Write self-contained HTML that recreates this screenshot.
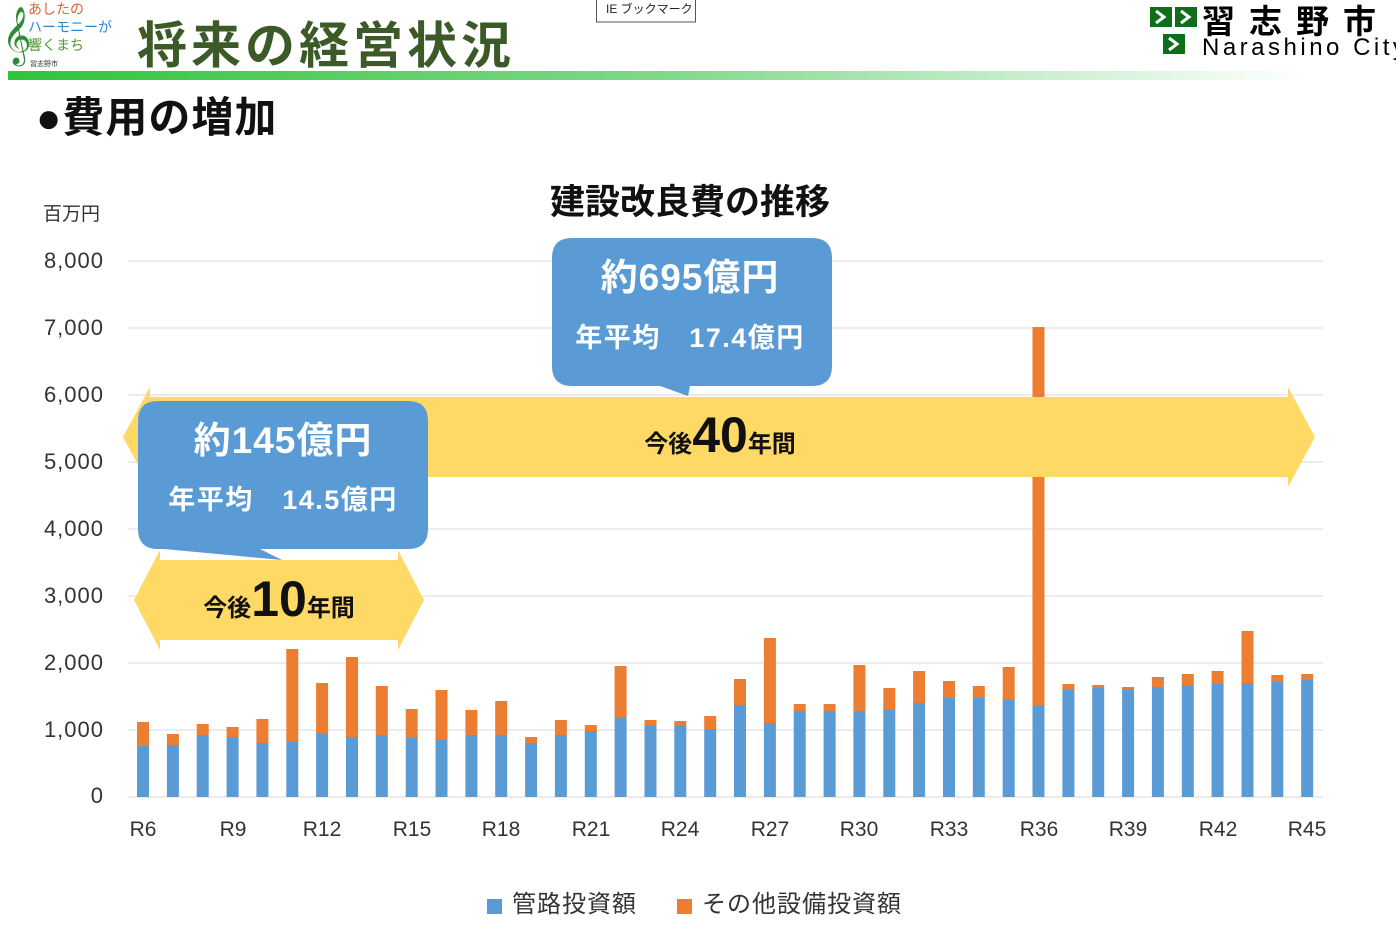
<!DOCTYPE html>
<html><head><meta charset="utf-8"><style>
body{margin:0;width:1396px;height:922px;background:#fff;overflow:hidden;font-family:"Liberation Sans","Noto Sans CJK JP",sans-serif}
svg text{font-family:"Liberation Sans","Noto Sans CJK JP",sans-serif}
</style></head><body>
<svg width="1396" height="922" viewBox="0 0 1396 922" xmlns="http://www.w3.org/2000/svg">
<defs><linearGradient id="g" x1="0" x2="1"><stop offset="0" stop-color="#2fc43a"/><stop offset="0.5" stop-color="#7fd88a"/><stop offset="1" stop-color="#fff"/></linearGradient></defs>
<text x="2" y="52" font-size="50" fill="#2e8b3a">𝄞</text>
<text x="28" y="14" font-size="14" fill="#e2603a">あしたの</text>
<text x="28" y="32" font-size="14" fill="#2a8ad0">ハーモニーが</text>
<text x="28" y="50" font-size="14" fill="#4a9a30">響くまち</text>
<text x="30" y="66" font-size="7" fill="#333">習志野市</text>
<text x="137" y="63" font-size="50" font-weight="bold" fill="#3b5a28" letter-spacing="4">将来の経営状況</text>
<rect x="8" y="71" width="1300" height="9" fill="url(#g)"/>
<rect x="596.5" y="-2" width="99" height="24" fill="#fff" stroke="#555"/>
<text x="606" y="13" font-size="12" fill="#222">IE ブックマーク</text>
<path d="M1150 7h22v20h-22zM1175 7h22v20h-22zM1163 34h22v20h-22z" fill="#0e6e1a"/>
<path d="M1156 11l8 6-8 6M1181 11l8 6-8 6M1169 38l8 6-8 6" stroke="#fff" stroke-width="3" fill="none"/>
<text x="1202" y="33" font-size="33" font-weight="bold" fill="#000" letter-spacing="14">習志野市</text>
<text x="1202" y="55" font-size="24" fill="#000" letter-spacing="3.5">Narashino City</text>
<text x="36" y="132" font-size="42" font-weight="bold" fill="#111" letter-spacing="1">●費用の増加</text>
<text x="690" y="214" font-size="35" font-weight="bold" fill="#111" text-anchor="middle">建設改良費の推移</text>
<text x="43" y="220" font-size="19" fill="#333">百万円</text>
<g stroke="#d9d9d9" stroke-width="1">
<line x1="128" x2="1323" y1="261" y2="261"/><line x1="128" x2="1323" y1="328" y2="328"/><line x1="128" x2="1323" y1="395" y2="395"/><line x1="128" x2="1323" y1="462" y2="462"/><line x1="128" x2="1323" y1="529" y2="529"/><line x1="128" x2="1323" y1="596" y2="596"/><line x1="128" x2="1323" y1="663" y2="663"/><line x1="128" x2="1323" y1="730" y2="730"/><line x1="128" x2="1323" y1="797" y2="797"/>
</g>
<g font-size="22" fill="#333" text-anchor="end" letter-spacing="1">
<text x="104" y="268">8,000</text><text x="104" y="335">7,000</text><text x="104" y="402">6,000</text><text x="104" y="469">5,000</text><text x="104" y="536">4,000</text><text x="104" y="603">3,000</text><text x="104" y="670">2,000</text><text x="104" y="737">1,000</text><text x="104" y="803">0</text>
</g>
<g fill="#ed7d31">
<rect x="137" y="722" width="12" height="24"/><rect x="166.9" y="734" width="12" height="11"/><rect x="196.7" y="724" width="12" height="11"/><rect x="226.6" y="727" width="12" height="10"/><rect x="256.4" y="719" width="12" height="24"/><rect x="286.3" y="649" width="12" height="92"/><rect x="316.1" y="683" width="12" height="50"/><rect x="346" y="657" width="12" height="80"/><rect x="375.8" y="686" width="12" height="49"/><rect x="405.7" y="709" width="12" height="29"/><rect x="435.5" y="690" width="12" height="50"/><rect x="465.4" y="710" width="12" height="25"/><rect x="495.2" y="701" width="12" height="34"/><rect x="525.1" y="737" width="12" height="6"/><rect x="554.9" y="720" width="12" height="15"/><rect x="584.8" y="725" width="12" height="6"/><rect x="614.6" y="666" width="12" height="51"/><rect x="644.5" y="720" width="12" height="5"/><rect x="674.3" y="721" width="12" height="4"/><rect x="704.2" y="716" width="12" height="13"/><rect x="734" y="679" width="12" height="26"/><rect x="763.9" y="638" width="12" height="85"/><rect x="793.7" y="704" width="12" height="7"/><rect x="823.6" y="704" width="12" height="7"/><rect x="853.4" y="665" width="12" height="46"/><rect x="883.3" y="688" width="12" height="22"/><rect x="913.1" y="671" width="12" height="32"/><rect x="943" y="681" width="12" height="17"/><rect x="972.8" y="686" width="12" height="12"/><rect x="1002.7" y="667" width="12" height="33"/><rect x="1032.5" y="327" width="12" height="378"/><rect x="1062.4" y="684" width="12" height="6"/><rect x="1092.2" y="685" width="12" height="3"/><rect x="1122.1" y="687" width="12" height="2"/><rect x="1151.9" y="677" width="12" height="10"/><rect x="1181.8" y="674" width="12" height="11"/><rect x="1211.6" y="671" width="12" height="13"/><rect x="1241.5" y="631" width="12" height="52"/><rect x="1271.3" y="675" width="12" height="7"/><rect x="1301.2" y="674" width="12" height="6"/>
</g>
<g fill="#5b9bd5">
<rect x="137" y="746" width="12" height="51"/><rect x="166.9" y="745" width="12" height="52"/><rect x="196.7" y="735" width="12" height="62"/><rect x="226.6" y="737" width="12" height="60"/><rect x="256.4" y="743" width="12" height="54"/><rect x="286.3" y="741" width="12" height="56"/><rect x="316.1" y="733" width="12" height="64"/><rect x="346" y="737" width="12" height="60"/><rect x="375.8" y="735" width="12" height="62"/><rect x="405.7" y="738" width="12" height="59"/><rect x="435.5" y="740" width="12" height="57"/><rect x="465.4" y="735" width="12" height="62"/><rect x="495.2" y="735" width="12" height="62"/><rect x="525.1" y="743" width="12" height="54"/><rect x="554.9" y="735" width="12" height="62"/><rect x="584.8" y="731" width="12" height="66"/><rect x="614.6" y="717" width="12" height="80"/><rect x="644.5" y="725" width="12" height="72"/><rect x="674.3" y="725" width="12" height="72"/><rect x="704.2" y="729" width="12" height="68"/><rect x="734" y="705" width="12" height="92"/><rect x="763.9" y="723" width="12" height="74"/><rect x="793.7" y="711" width="12" height="86"/><rect x="823.6" y="711" width="12" height="86"/><rect x="853.4" y="711" width="12" height="86"/><rect x="883.3" y="710" width="12" height="87"/><rect x="913.1" y="703" width="12" height="94"/><rect x="943" y="698" width="12" height="99"/><rect x="972.8" y="698" width="12" height="99"/><rect x="1002.7" y="700" width="12" height="97"/><rect x="1032.5" y="705" width="12" height="92"/><rect x="1062.4" y="690" width="12" height="107"/><rect x="1092.2" y="688" width="12" height="109"/><rect x="1122.1" y="689" width="12" height="108"/><rect x="1151.9" y="687" width="12" height="110"/><rect x="1181.8" y="685" width="12" height="112"/><rect x="1211.6" y="684" width="12" height="113"/><rect x="1241.5" y="683" width="12" height="114"/><rect x="1271.3" y="682" width="12" height="115"/><rect x="1301.2" y="680" width="12" height="117"/>
</g>
<g font-size="21" fill="#333" text-anchor="middle">
<text x="143" y="836">R6</text><text x="233" y="836">R9</text><text x="322" y="836">R12</text><text x="412" y="836">R15</text><text x="501" y="836">R18</text><text x="591" y="836">R21</text><text x="680" y="836">R24</text><text x="770" y="836">R27</text><text x="859" y="836">R30</text><text x="949" y="836">R33</text><text x="1039" y="836">R36</text><text x="1128" y="836">R39</text><text x="1218" y="836">R42</text><text x="1307" y="836">R45</text>
</g>
<rect x="487" y="899" width="15" height="15" fill="#5b9bd5"/>
<text x="512" y="912" font-size="24" fill="#333" letter-spacing="1">管路投資額</text>
<rect x="677" y="899" width="15" height="15" fill="#ed7d31"/>
<text x="702" y="912" font-size="24" fill="#333" letter-spacing="1">その他設備投資額</text>
<polygon points="123,437 150,387 150,397 1288,397 1288,387 1315,437 1288,487 1288,477 150,477 150,487" fill="#fed966"/>
<text x="720" y="452" font-size="24" font-weight="bold" fill="#111" text-anchor="middle">今後<tspan font-size="50">40</tspan>年間</text>
<polygon points="134,600 160,550 160,560 398,560 398,550 424,600 398,650 398,640 160,640 160,650" fill="#fed966"/>
<text x="279" y="616" font-size="24" font-weight="bold" fill="#111" text-anchor="middle">今後<tspan font-size="50">10</tspan>年間</text>
<path d="M572,238 H812 Q832,238 832,258 V366 Q832,386 812,386 H690 L688,396 L660,386 H572 Q552,386 552,366 V258 Q552,238 572,238 Z" fill="#5b9bd5"/>
<text x="690" y="290" font-size="37" font-weight="bold" fill="#fff" text-anchor="middle" letter-spacing="1">約695億円</text>
<text x="690" y="347" font-size="27" font-weight="bold" fill="#fff" text-anchor="middle" letter-spacing="1.5">年平均　17.4億円</text>
<path d="M158,401 H408 Q428,401 428,421 V529 Q428,549 408,549 H260 L282,560 L164,549 H158 Q138,549 138,529 V421 Q138,401 158,401 Z" fill="#5b9bd5"/>
<text x="283" y="453" font-size="37" font-weight="bold" fill="#fff" text-anchor="middle" letter-spacing="1">約145億円</text>
<text x="283" y="509" font-size="27" font-weight="bold" fill="#fff" text-anchor="middle" letter-spacing="1.5">年平均　14.5億円</text>
</svg>
</body></html>
